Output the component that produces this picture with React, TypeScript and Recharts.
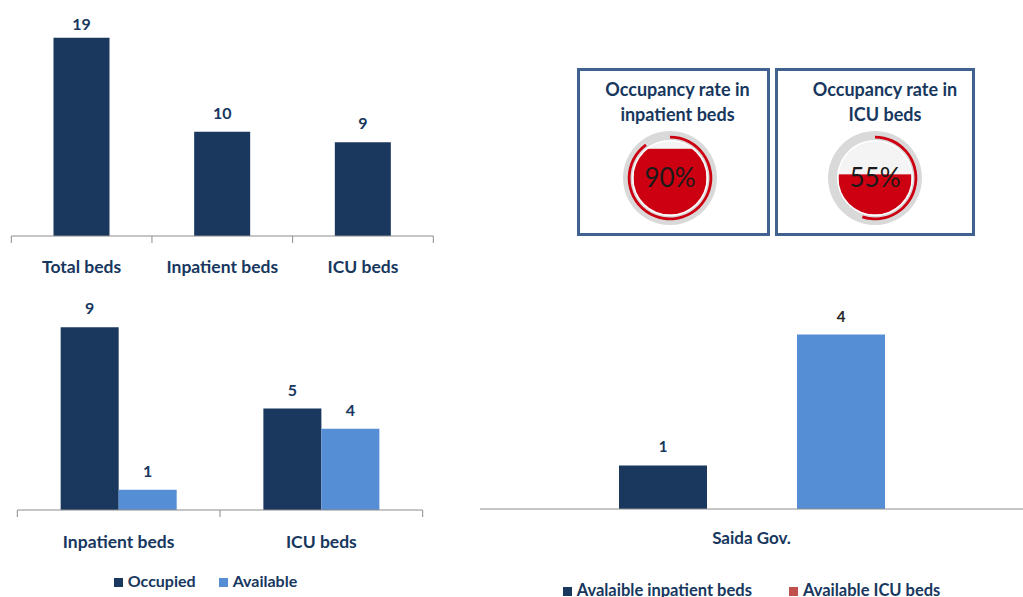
import React from 'react';
import {
  BarChart,
  Bar,
  XAxis,
  YAxis,
  LabelList,
  Legend,
  PieChart,
  Pie,
  Cell,
} from 'recharts';

// ---------- data ----------
const bedCategories = ['Total beds', 'Inpatient beds', 'ICU beds'];
const bedTotals = [19, 10, 9];

const statusCategories = ['Inpatient beds', 'ICU beds'];
const occupiedValues = [9, 5];
const availableValues = [1, 4];
const statusSeriesNames = ['Occupied', 'Available'];

const regionCategories = ['Saida Gov.'];
const availableInpatient = [1];
const availableIcu = [4];
const regionSeriesNames = ['Avalaible inpatient beds', 'Available ICU beds'];

const gaugeTitles = [
  ['Occupancy rate in', 'inpatient beds'],
  ['Occupancy rate in', 'ICU beds'],
];
const occupancyRates = [90, 55];

// ---------- styles ----------
const NAVY = '#17375E';
const DARK = '#1A375E';
const LIGHT = '#558ED5';
const LEGEND_RED = '#C0504D';
const AXIS = '#8C8C8C';
const GAUGE_RED = '#CC0011';
const FONT = 'Lato, "Noto Sans", sans-serif';

const bedData = bedCategories.map((name, i) => ({ name, total: bedTotals[i] }));
const statusData = statusCategories.map((name, i) => ({
  name,
  occupied: occupiedValues[i],
  available: availableValues[i],
}));
const regionData = regionCategories.map((name, i) => ({
  name,
  inpatient: availableInpatient[i],
  icu: availableIcu[i],
}));

const makeTick = (margin: number, fontSize: number, boundaries: boolean) => (props: any) => {
  const { x, y, payload, index, visibleTicksCount, width } = props;
  const half =
    payload && typeof payload.offset === 'number' && payload.offset > 0
      ? payload.offset
      : width / visibleTicksCount / 2;
  const axisY = y - margin;
  return (
    <g>
      {boundaries && (
        <line x1={x - half} x2={x - half} y1={axisY} y2={axisY + 7} stroke={AXIS} strokeWidth={1} />
      )}
      {boundaries && index === visibleTicksCount - 1 && (
        <line x1={x + half} x2={x + half} y1={axisY} y2={axisY + 7} stroke={AXIS} strokeWidth={1} />
      )}
      <text
        x={x}
        y={y}
        dy="0.71em"
        textAnchor="middle"
        fill={NAVY}
        fontSize={fontSize}
        fontWeight={700}
        fontFamily={FONT}
      >
        {payload.value}
      </text>
    </g>
  );
};

const makeValueLabel = (fill: string, minBaseline: number, fontSize = 16) => (props: any) => {
  const { x, y, width, value } = props;
  const baseline = Math.max(Number(y) - 13, minBaseline);
  return (
    <text
      x={Number(x) + Number(width) / 2}
      y={baseline}
      textAnchor="middle"
      fill={fill}
      fontSize={fontSize}
      fontWeight={700}
      fontFamily={FONT}
    >
      {value}
    </text>
  );
};

const makeLegend = (names: string[], colors: string[], gap: number, shift: number, fontSize: number) => () => (
  <div
    style={{
      display: 'flex',
      justifyContent: 'center',
      alignItems: 'baseline',
      height: 20,
      paddingRight: shift > 0 ? shift : 0,
      paddingLeft: shift < 0 ? -shift : 0,
      boxSizing: 'border-box',
    }}
  >
    {names.map((name, i) => (
      <div key={i} style={{ display: 'flex', alignItems: 'baseline', marginLeft: i === 0 ? 0 : gap }}>
        <span
          style={{
            display: 'inline-block',
            width: 9,
            height: 9,
            marginBottom: 1,
            background: colors[i],
          }}
        />
        <span
          style={{
            marginLeft: 5,
            color: NAVY,
            fontWeight: 700,
            fontSize,
            fontFamily: FONT,
            lineHeight: '20px',
            whiteSpace: 'nowrap',
          }}
        >
          {name}
        </span>
      </div>
    ))}
  </div>
);

const makeFillLabel = (rate: number, id: string) => (props: any) => {
  const cx = Number(props.cx);
  const cy = Number(props.cy);
  const r = Number(props.outerRadius);
  const frac = rate / 100;
  return (
    <g>
      <defs>
        <clipPath id={`clip-${id}`}>
          <circle cx={cx} cy={cy} r={r} />
        </clipPath>
      </defs>
      <rect
        x={cx - r}
        y={cy + r - 2 * r * frac}
        width={2 * r}
        height={2 * r * frac}
        fill={GAUGE_RED}
        clipPath={`url(#clip-${id})`}
      />
      <text
        x={cx}
        y={cy}
        dy="0.36em"
        textAnchor="middle"
        fontSize={26}
        fill="#1A1A1A"
        fontFamily={FONT}
      >
        {rate}%
      </text>
    </g>
  );
};

const Gauge = ({ rate, id }: { rate: number; id: string }) => {
  const ring = [{ v: 1 }];
  const arc = [{ v: rate }, { v: 100 - rate }];
  return (
    <PieChart width={100} height={100} margin={{ top: 0, right: 0, bottom: 0, left: 0 }}>
      <Pie
        data={ring}
        dataKey="v"
        cx={50}
        cy={50}
        innerRadius={38}
        outerRadius={47}
        startAngle={90}
        endAngle={-270}
        fill="#D9D9D9"
        stroke="none"
        isAnimationActive={false}
      />
      <Pie
        data={arc}
        dataKey="v"
        cx={50}
        cy={50}
        innerRadius={39.5}
        outerRadius={42.3}
        startAngle={90}
        endAngle={-270}
        stroke="none"
        isAnimationActive={false}
      >
        <Cell fill={GAUGE_RED} />
        <Cell fill="none" />
      </Pie>
      <Pie
        data={ring}
        dataKey="v"
        cx={50}
        cy={50}
        innerRadius={0}
        outerRadius={36.5}
        startAngle={90}
        endAngle={-270}
        fill="#F4F4F4"
        stroke="none"
        isAnimationActive={false}
        labelLine={false}
        label={makeFillLabel(rate, id)}
      />
    </PieChart>
  );
};

const boxes = [
  { left: 577, width: 193, shift: 8, cx: 669.7, cy: 178.3 },
  { left: 775, width: 200, shift: 20, cx: 875.4, cy: 177.8 },
];

export default function App() {
  return (
    <div
      style={{
        position: 'absolute',
        left: 0,
        top: 0,
        width: 1023,
        height: 597,
        overflow: 'hidden',
        background: '#fff',
        fontFamily: FONT,
      }}
    >
      {/* Chart 1: totals */}
      <div style={{ position: 'absolute', left: 0, top: 0 }}>
        <BarChart
          width={450}
          height={290}
          data={bedData}
          margin={{ top: 27.4, right: 16.7, bottom: 0, left: 11.3 }}
          barCategoryGap="30%"
        >
          <XAxis
            dataKey="name"
            height={54}
            tickSize={0}
            tickMargin={24.4}
            axisLine={{ stroke: AXIS }}
            tickLine={false}
            interval={0}
            tick={makeTick(24.4, 17.5, true)}
          />
          <YAxis hide domain={[0, 20]} />
          <Bar dataKey="total" fill={DARK} isAnimationActive={false}>
            <LabelList dataKey="total" content={makeValueLabel(NAVY, 30)} />
          </Bar>
        </BarChart>
      </div>

      {/* Chart 2: occupied vs available */}
      <div style={{ position: 'absolute', left: 0, top: 290 }}>
        <BarChart
          width={450}
          height={307}
          data={statusData}
          margin={{ top: 17, right: 27.3, bottom: 6.3, left: 17.3 }}
          barCategoryGap="21.4%"
          barGap={0}
        >
          <XAxis
            dataKey="name"
            height={60.7}
            tickSize={0}
            tickMargin={25.4}
            axisLine={{ stroke: AXIS }}
            tickLine={false}
            interval={0}
            tick={makeTick(25.4, 17.5, true)}
          />
          <YAxis hide domain={[0, 10]} />
          <Legend
            verticalAlign="bottom"
            content={makeLegend(statusSeriesNames, [DARK, LIGHT], 23, 29, 16)}
          />
          <Bar dataKey="occupied" name={statusSeriesNames[0]} fill={DARK} isAnimationActive={false}>
            <LabelList dataKey="occupied" content={makeValueLabel(NAVY, -1000)} />
          </Bar>
          <Bar dataKey="available" name={statusSeriesNames[1]} fill={LIGHT} isAnimationActive={false}>
            <LabelList dataKey="available" content={makeValueLabel(NAVY, -1000)} />
          </Bar>
        </BarChart>
      </div>

      {/* Chart 3: Saida Gov. */}
      <div style={{ position: 'absolute', left: 480, top: 290 }}>
        <BarChart
          width={543}
          height={320}
          data={regionData}
          margin={{ top: 1, right: 0, bottom: 10.4, left: 0 }}
          barSize={88}
          barGap={90}
        >
          <XAxis
            dataKey="name"
            height={70.6}
            tickSize={0}
            tickMargin={23.2}
            axisLine={{ stroke: AXIS }}
            tickLine={false}
            interval={0}
            tick={makeTick(23.2, 17, false)}
          />
          <YAxis hide domain={[0, 5]} />
          <Legend
            verticalAlign="bottom"
            content={makeLegend(regionSeriesNames, [DARK, LEGEND_RED], 37, 0, 16.5)}
          />
          <Bar dataKey="inpatient" name={regionSeriesNames[0]} fill={DARK} isAnimationActive={false}>
            <LabelList dataKey="inpatient" content={makeValueLabel(NAVY, -1000, 15)} />
          </Bar>
          <Bar dataKey="icu" name={regionSeriesNames[1]} fill={LIGHT} isAnimationActive={false}>
            <LabelList dataKey="icu" content={makeValueLabel('#262626', -1000, 15)} />
          </Bar>
        </BarChart>
      </div>

      {/* Gauge boxes */}
      {boxes.map((b, i) => (
        <React.Fragment key={i}>
          <div
            style={{
              position: 'absolute',
              left: b.left,
              top: 68,
              width: b.width,
              height: 168,
              boxSizing: 'border-box',
              border: '3px solid #41618E',
              paddingTop: 6.3,
              paddingLeft: b.shift,
              textAlign: 'center',
              color: NAVY,
              fontWeight: 700,
              fontSize: 18,
              lineHeight: '24.5px',
              fontFamily: FONT,
            }}
          >
            <div>{gaugeTitles[i][0]}</div>
            <div>{gaugeTitles[i][1]}</div>
          </div>
          <div style={{ position: 'absolute', left: b.cx - 50, top: b.cy - 50 }}>
            <Gauge rate={occupancyRates[i]} id={`g${i}`} />
          </div>
        </React.Fragment>
      ))}
    </div>
  );
}
